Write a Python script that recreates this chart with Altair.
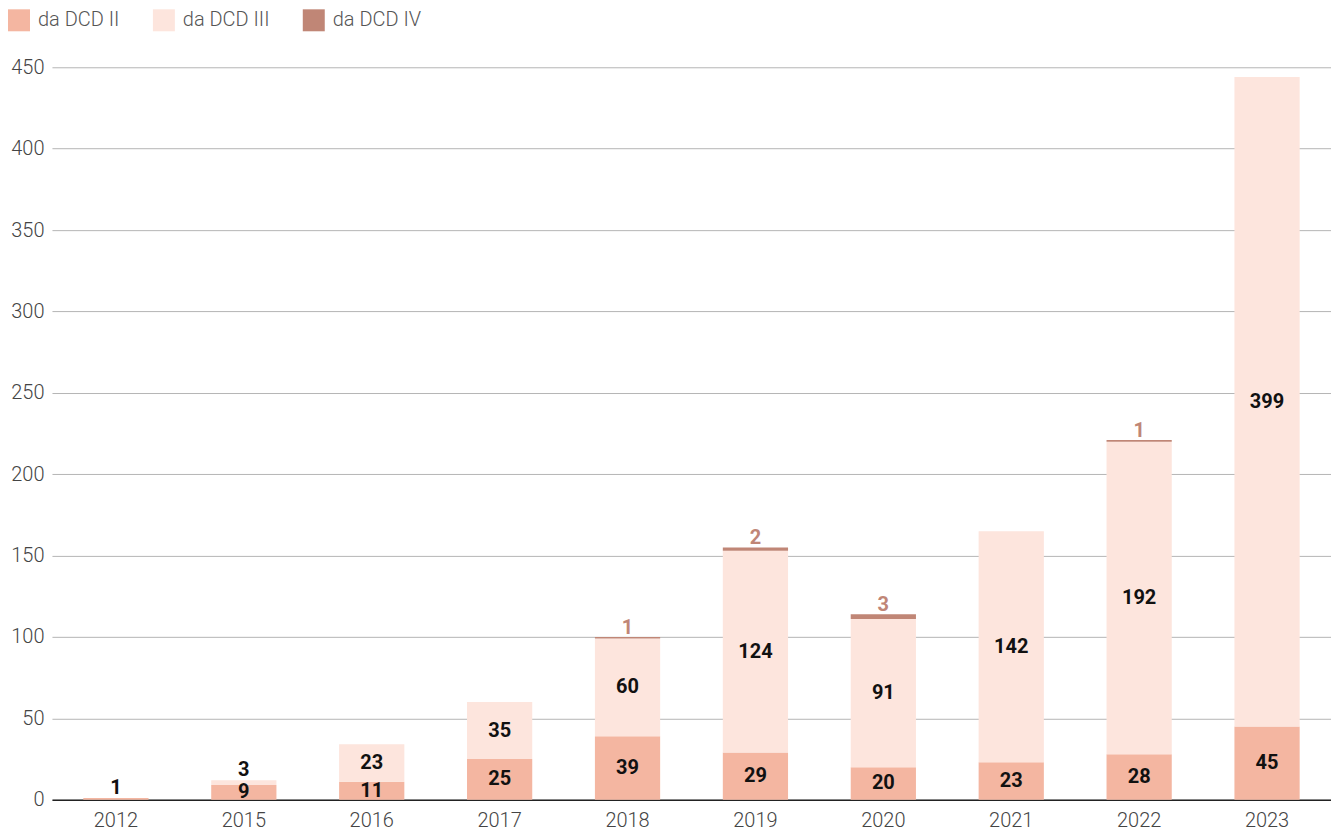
import altair as alt
import pandas as pd

years = ["2012", "2015", "2016", "2017", "2018", "2019", "2020", "2021", "2022", "2023"]
series = ["da DCD II", "da DCD III", "da DCD IV"]
dcd2 = [1, 9, 11, 25, 39, 29, 20, 23, 28, 45]
dcd3 = [0, 3, 23, 35, 60, 124, 91, 142, 192, 399]
dcd4 = [0, 0, 0, 0, 1, 2, 3, 0, 1, 0]
colors = ["#F4B6A1", "#FDE5DD", "#C08676"]

rows = []
for i, y in enumerate(years):
    for k, vals in enumerate([dcd2, dcd3, dcd4]):
        rows.append({"year": y, "series": series[k], "order": k, "value": vals[i]})
df = pd.DataFrame(rows)

FONT = "Roboto"

base = alt.Chart(df).transform_stack(
    stack="value", as_=["y0", "y1"], groupby=["year"], sort=[{"field": "order", "order": "ascending"}]
).transform_calculate(mid="(datum.y0 + datum.y1) / 2")

xenc = alt.X(
    "year:N", sort=years, title=None,
    scale=alt.Scale(paddingInner=0.49, paddingOuter=0.245),
    axis=alt.Axis(labelAngle=0, ticks=False, domainColor="#222222", domainWidth=1.5,
                  labelFont=FONT, labelFontSize=20, labelFontWeight=300, labelColor="#444444",
                  labelPadding=11, grid=False),
)

bars = base.mark_bar().encode(
    x=xenc,
    y=alt.Y("y0:Q", title=None, scale=alt.Scale(domain=[0, 450]),
            axis=alt.Axis(values=list(range(0, 451, 50)), ticks=False, domain=False,
                          gridColor="#b5b5b5", gridWidth=1,
                          labelFont=FONT, labelFontSize=20, labelFontWeight=300, labelColor="#444444",
                          labelPadding=8)),
    y2="y1:Q",
    color=alt.Color("series:N", sort=series, scale=alt.Scale(domain=series, range=colors),
                    legend=alt.Legend(title=None, orient="none", direction="horizontal",
                                      legendX=-44, legendY=-58, symbolType="square", symbolSize=484,
                                      symbolStrokeWidth=0, labelFont=FONT, labelFontSize=20,
                                      labelFontWeight=300, labelColor="#555555", labelOffset=8,
                                      columnPadding=33)),
    order=alt.Order("order:Q"),
)

txt_mid = base.transform_filter("datum.order < 2 && datum.value >= 5").mark_text(
    font=FONT, fontSize=20, fontWeight="bold", color="#111111", baseline="middle"
).encode(x=alt.X("year:N", sort=years), y="mid:Q", text="value:Q")

txt_small = base.transform_filter("datum.order < 2 && datum.value > 0 && datum.value < 5").mark_text(
    font=FONT, fontSize=20, fontWeight="bold", color="#111111", baseline="alphabetic", dy=-4
).encode(x=alt.X("year:N", sort=years), y="y1:Q", text="value:Q")

txt_top = base.transform_filter("datum.order == 2 && datum.value > 0").mark_text(
    font=FONT, fontSize=20, fontWeight="bold", color="#C08676", baseline="alphabetic", dy=-3
).encode(x=alt.X("year:N", sort=years), y="y1:Q", text="value:Q")

chart = alt.layer(bars, txt_mid, txt_small, txt_top).properties(
    width=1280, height=733, padding={"left": 0, "top": 1, "right": 0, "bottom": 0}
).configure_view(stroke=None)

chart.save("out.html", embed_options={"renderer": "svg", "actions": False})
